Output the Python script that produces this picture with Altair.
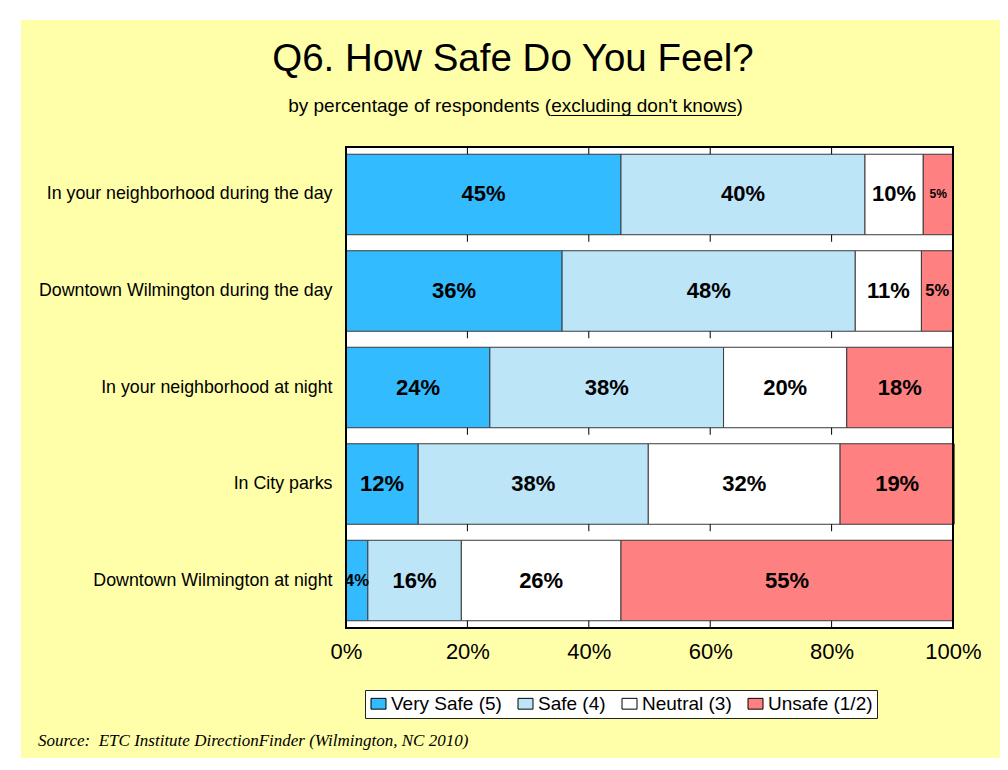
import altair as alt
import pandas as pd

# ---------------- data ----------------
categories = [
    "In your neighborhood during the day",
    "Downtown Wilmington during the day",
    "In your neighborhood at night",
    "In City parks",
    "Downtown Wilmington at night",
]
responses = ["Very Safe (5)", "Safe (4)", "Neutral (3)", "Unsafe (1/2)"]

very_safe = [45.3, 35.6, 23.7, 11.9, 3.6]
safe = [40.2, 48.3, 38.5, 37.9, 15.4]
neutral = [9.6, 10.9, 20.3, 31.6, 26.3]
unsafe = [4.9, 5.2, 17.5, 18.8, 54.7]

very_safe_lbl = ["45%", "36%", "24%", "12%", "4%"]
safe_lbl = ["40%", "48%", "38%", "38%", "16%"]
neutral_lbl = ["10%", "11%", "20%", "32%", "26%"]
unsafe_lbl = ["5%", "5%", "18%", "19%", "55%"]

axis_values = [0, 20, 40, 60, 80, 100]
grid_ticks = [20, 40, 60, 80]

title_text = ["Q6. How Safe Do You Feel?"]
subtitle_text = ["by percentage of respondents (excluding don't knows)"]
source_text = ["Source:\u00a0 ETC Institute DirectionFinder (Wilmington, NC 2010)"]

# ---------------- styles ----------------
W, H = 607, 481
P_INNER, P_OUTER = 0.166, 0.075
FONT = "Liberation Sans"
COLORS = ["#33BBFF", "#BDE5F8", "#FFFFFF", "#FF8080"]
EDGE = "#3a3a3a"
YELLOW = "#FFFFAA"

series = [very_safe, safe, neutral, unsafe]
labels = [very_safe_lbl, safe_lbl, neutral_lbl, unsafe_lbl]
rows = []
for ci, cat in enumerate(categories):
    for ri, resp in enumerate(responses):
        rows.append({"cat": cat, "resp": resp, "ord": ri,
                     "value": series[ri][ci], "lbl": labels[ri][ci]})
df = pd.DataFrame(rows)

tick_df = pd.DataFrame([{"cat": c, "tick": t} for c in categories for t in grid_ticks])
top_tick_df = pd.DataFrame([{"cat": categories[0], "tick": t} for t in grid_ticks])
one = pd.DataFrame({"a": [0]})

xscale = alt.Scale(domain=[0, 100], nice=False, zero=True)
yscale = alt.Scale(domain=categories, paddingInner=P_INNER, paddingOuter=P_OUTER)
xaxis = alt.Axis(values=axis_values, labelExpr="datum.value + '%'", labelFontSize=22,
                 labelFont=FONT, labelColor="black", labelPadding=13, ticks=False,
                 domain=False, grid=False, title=None, labelFlush=False, zindex=1)
yaxis = alt.Axis(labelFontSize=17.8, labelFont=FONT, labelColor="black", labelPadding=14,
                 ticks=False, domain=False, grid=False, title=None, labelLimit=400,
                 zindex=1)


def Y():
    return alt.Y("cat:N", scale=yscale, axis=yaxis, sort=categories)


stacked = alt.Chart(df).transform_stack(
    stack="value", as_=["x0", "x1"], groupby=["cat"],
    sort=[alt.SortField("ord", order="ascending")],
)

# background panel & plot area
panel = alt.Chart(one).mark_rect(fill=YELLOW, opacity=1).encode(
    x=alt.value(-325), x2=alt.value(659), y=alt.value(-127), y2=alt.value(611))
plotbg = alt.Chart(one).mark_rect(fill="white", opacity=1).encode(
    x=alt.value(0), x2=alt.value("width"), y=alt.value(0), y2=alt.value("height"))

bars = stacked.mark_bar(stroke=EDGE, strokeWidth=1, opacity=1).encode(
    x=alt.X("x0:Q", scale=xscale, axis=xaxis),
    x2="x1:Q",
    y=Y(),
    color=alt.Color("resp:N", scale=alt.Scale(domain=responses, range=COLORS),
                    legend=alt.Legend(
                        orient="none", legendX=19, legendY=543, direction="horizontal",
                        title=None, symbolType="M-1,-0.72H1V0.72H-1Z", symbolSize=225,
                        symbolStrokeColor="black", symbolStrokeWidth=1,
                        symbolOpacity=1, labelFontSize=19, labelFont=FONT,
                        labelColor="black", fillColor="white", strokeColor="#222222",
                        padding=4, columnPadding=14, labelOffset=3, zindex=1)),
)

step = H / (len(categories) - P_INNER + 2 * P_OUTER)
bar_h = step * (1 - P_INNER)

ticks_mid = alt.Chart(tick_df).mark_tick(orient="vertical", size=7, thickness=1,
                                         color="black", opacity=1,
                                         yOffset=bar_h / 2 + 3.5).encode(
    x=alt.X("tick:Q", scale=xscale, axis=xaxis), y=Y())
ticks_top = alt.Chart(top_tick_df).mark_tick(orient="vertical", size=7, thickness=1,
                                             color="black", opacity=1,
                                             yOffset=-(bar_h / 2 + 3.6)).encode(
    x=alt.X("tick:Q", scale=xscale, axis=xaxis), y=Y())

text = stacked.transform_calculate(
    mid="(datum.x0 + datum.x1) / 2",
    fs=("datum.cat == '%s' && datum.resp == '%s' ? 12 : (datum.value < 6 ? 16.5 : 22)"
        % (categories[0], responses[3])),
).mark_text(font=FONT, fontWeight="bold", color="black", align="center",
            baseline="middle", opacity=1).encode(
    x=alt.X("mid:Q", scale=xscale, axis=xaxis), y=Y(), text="lbl:N",
    size=alt.Size("fs:Q", scale=None, legend=None))

border = alt.Chart(one).mark_rect(fill="transparent", stroke="black", strokeWidth=2).encode(
    x=alt.value(0), x2=alt.value("width"), y=alt.value(0), y2=alt.value("height"))

title = alt.Chart(pd.DataFrame({"t": title_text})).mark_text(
    font=FONT, fontSize=38.5, color="black", align="center", baseline="alphabetic").encode(
    x=alt.value(167), y=alt.value(-76), text="t:N")
subtitle = alt.Chart(pd.DataFrame({"t": subtitle_text})).mark_text(
    font=FONT, fontSize=19, color="black", align="center", baseline="alphabetic").encode(
    x=alt.value(169.5), y=alt.value(-35), text="t:N")
underline = alt.Chart(one).mark_rule(color="black", strokeWidth=1.2).encode(
    x=alt.value(205), x2=alt.value(390), y=alt.value(-31.5))
source = alt.Chart(pd.DataFrame({"t": source_text})).mark_text(
    font="Liberation Serif", fontStyle="italic", fontSize=17, color="black",
    align="left", baseline="alphabetic").encode(
    x=alt.value(-308), y=alt.value(599), text="t:N")

chart = alt.layer(
    panel, plotbg, bars, ticks_mid, ticks_top, text, border,
    title, subtitle, underline, source,
).properties(
    width=W, height=H,
    padding={"left": 338, "top": 139, "right": 47, "bottom": 132},
    autosize=alt.AutoSizeParams(type="none"),
    background="white",
).configure_view(strokeWidth=0)

chart.save("out.html", embed_options={"renderer": "svg", "actions": False})
